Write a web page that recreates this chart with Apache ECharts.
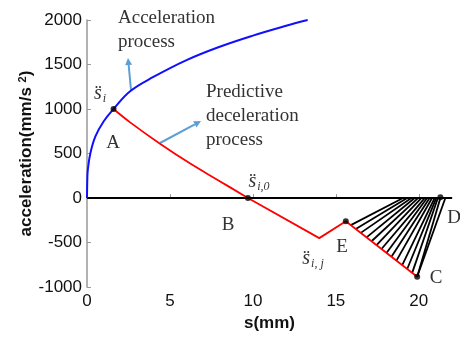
<!DOCTYPE html>
<html>
<head>
<meta charset="utf-8">
<script src="https://cdn.jsdelivr.net/npm/echarts@6/dist/echarts.min.js"></script>
<style>
  html, body { margin: 0; padding: 0; background: #fff; }
  #chart { width: 460px; height: 337px; }
</style>
</head>
<body>
<div id="chart"></div>
<script>
// values
const xTicks = [0, 5, 10, 15, 20];
const accelCurve = [[0, 0], [0.02, 220], [0.05, 320], [0.2, 500], [0.5, 690], [1.0, 860], [1.6, 1000],
  [2.6, 1200], [4, 1360], [6, 1550], [8, 1700], [10, 1825], [12, 1935], [13.3, 2000]];
const decelCurve = [[1.6, 1000], [2.6, 850], [4.4, 610], [6.2, 390], [8.0, 190], [9.7, 0]];
const decelTail = [[9.7, 0], [14.0, -450], [15.6, -260], [19.9, -884]];
const zeroLine = [[0, 0], [22, 0]];
const keyPoints = [[1.6, 1000], [9.7, 0], [15.6, -260], [19.9, -884], [21.3, 10]];
const hatchFrom = [[15.9, -304], [16.2, -347], [16.5, -391], [16.85, -441], [17.15, -485], [17.45, -528],
  [17.75, -572], [18.05, -616], [18.35, -659], [18.65, -703], [19.0, -753], [19.3, -797], [19.6, -840], [19.9, -884], [19.9, -884]];
const hatchTo = [19.05, 19.3, 19.55, 19.75, 19.95, 20.15, 20.35, 20.5, 20.65, 20.8, 20.95, 21.05, 21.15, 21.3, 21.6];

let chart = echarts.init(document.getElementById("chart"));

const serif = "Liberation Serif";
const txtColor = "#333";
const arrowColor = "#5b9fd6";

function label(x, y, text) {
  return {
    type: "text", x: x, y: y,
    style: { text: text, font: "19px " + serif, fill: txtColor, align: "center", verticalAlign: "middle" }
  };
}

function sddot(x, y, sub) {
  return {
    type: "text", x: x, y: y,
    style: {
      text: "{s|s\u0308}{sub|" + sub + "}",
      align: "center", verticalAlign: "middle",
      rich: {
        s: { font: "italic 20px " + serif, fill: txtColor },
        sub: { font: "italic 12px " + serif, fill: txtColor, padding: [10, 0, 0, 1] }
      }
    }
  };
}

function arrow(x1, y1, x2, y2) {
  const a = Math.atan2(y2 - y1, x2 - x1);
  const l = 7, w = 3.5;
  const bx = x2 - l * Math.cos(a), by = y2 - l * Math.sin(a);
  return [
    { type: "line", shape: { x1: x1, y1: y1, x2: bx, y2: by }, style: { stroke: arrowColor, lineWidth: 2 } },
    { type: "polygon", shape: { points: [[x2, y2],
      [bx + w * Math.sin(a), by - w * Math.cos(a)], [bx - w * Math.sin(a), by + w * Math.cos(a)]] },
      style: { fill: arrowColor } }
  ];
}

const option = {
  animation: false,
  grid: { left: 87, right: 8, top: 20, bottom: 49 },
  xAxis: {
    type: "value", min: 0, max: 22, interval: 5,
    name: "s(mm)", nameLocation: "middle", nameGap: 27,
    nameTextStyle: { fontFamily: "Liberation Sans", fontWeight: "bold", fontSize: 17, color: "#111" },
    axisLine: { lineStyle: { color: "#999", width: 1.5 } },
    axisTick: { inside: true, length: 4, lineStyle: { color: "#999" }, customValues: xTicks },
    axisLabel: { fontFamily: "Liberation Sans", fontSize: 17, color: "#111", margin: 6, customValues: xTicks },
    splitLine: { show: false }
  },
  yAxis: {
    type: "value", min: -1000, max: 2000, interval: 500,
    name: "acceleration(mm/s {sup|2})", nameLocation: "middle", nameGap: 51, nameRotate: 90,
    nameMoveOverlap: false,
    nameTextStyle: {
      fontFamily: "Liberation Sans", fontWeight: "bold", fontSize: 17, color: "#111",
      rich: { sup: { fontFamily: "Liberation Sans", fontWeight: "bold", fontSize: 11, color: "#111", padding: [0, 0, 8, 0] } }
    },
    axisLine: { show: true, lineStyle: { color: "#999", width: 1.5 } },
    axisTick: { show: true, inside: true, length: 4, lineStyle: { color: "#999" } },
    axisLabel: { fontFamily: "Liberation Sans", fontSize: 17, color: "#111", margin: 5, formatter: v => String(v) },
    splitLine: { show: false }
  },
  series: [
    {
      type: "lines", coordinateSystem: "cartesian2d", z: 2,
      data: hatchFrom.map((p, i) => ({ coords: [p, [hatchTo[i], 0]] })),
      lineStyle: { color: "#000", width: 1.8, opacity: 1 }
    },
    {
      type: "line", data: zeroLine, symbol: "none", z: 3,
      lineStyle: { color: "#000", width: 2 }
    },
    {
      type: "line", data: accelCurve, symbol: "none", smooth: 0.4, z: 4,
      lineStyle: { color: "#1010ff", width: 2 }
    },
    {
      type: "line", data: decelCurve, symbol: "none", smooth: 0.4, z: 4,
      lineStyle: { color: "#ff0000", width: 1.8 }
    },
    {
      type: "line", data: decelTail, symbol: "none", z: 4,
      lineStyle: { color: "#ff0000", width: 1.8 }
    },
    {
      type: "scatter", data: keyPoints, symbolSize: 6, z: 5,
      itemStyle: { color: "#000" }
    }
  ],
  graphic: [
    {
      type: "text", x: 118, y: 6,
      style: { text: "Acceleration\nprocess", font: "19px " + serif, fill: txtColor, lineHeight: 24 }
    },
    {
      type: "text", x: 206, y: 80,
      style: { text: "Predictive\ndeceleration\nprocess", font: "19px " + serif, fill: txtColor, lineHeight: 24 }
    },
    ...arrow(131, 90, 128, 58),
    ...arrow(160, 143, 201, 121),
    sddot(100, 94, "i"),
    sddot(259, 182, "i,0"),
    sddot(313, 259, "i, j"),
    label(113, 143, "A"),
    label(228, 225, "B"),
    label(342, 247, "E"),
    label(436, 278, "C"),
    label(454, 218, "D")
  ]
};

option && chart.setOption(option);
</script>
</body>
</html>
